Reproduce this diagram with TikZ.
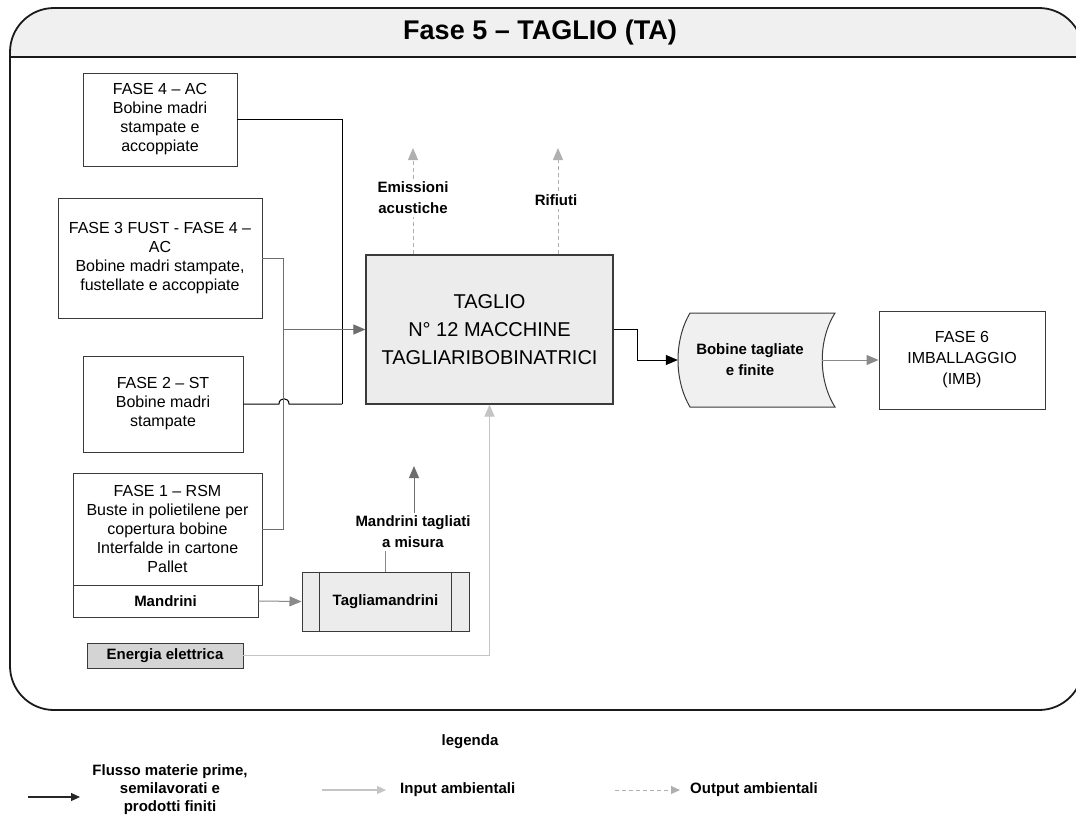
\documentclass[tikz,border=0pt]{standalone}
\usepackage{fontspec}
\setmainfont{Liberation Sans}
\usetikzlibrary{arrows.meta}

\definecolor{frameline}{HTML}{1A1A1A}
\definecolor{boxline}{HTML}{3A3A3A}
\definecolor{bandfill}{HTML}{F0F0F0}
\definecolor{procfill}{HTML}{ECECEC}
\definecolor{energyfill}{HTML}{D4D4D4}
\definecolor{flowgray}{HTML}{6E6E6E}
\definecolor{midgray}{HTML}{8A8A8A}
\definecolor{inlight}{HTML}{C4C4C4}
\definecolor{outdash}{HTML}{B0B0B0}

\newcommand{\boxfont}{\fontsize{16}{19}\selectfont}
\newcommand{\lblfont}{\fontsize{15}{21}\selectfont\bfseries}

\tikzset{
  phasebox/.style={draw=boxline, fill=white, line width=0.9pt, align=center,
    font=\boxfont, inner sep=0pt},
  mainbox/.style={draw=boxline, fill=procfill, line width=1.2pt, align=center,
    font=\fontsize{20}{28}\selectfont, inner sep=0pt},
  lbl/.style={align=center, font=\lblfont, inner sep=3pt},
  flowtip/.style={-{Triangle[length=12pt,width=10pt]}},
  smalltip/.style={-{Triangle[length=9pt,width=8pt]}},
  blackflow/.style={draw=black, line width=1pt},
  grayflow/.style={draw=flowgray, line width=1pt},
  inflow/.style={draw=inlight, line width=1.2pt},
  outflow/.style={draw=outdash, line width=1pt, dashed, dash pattern=on 4pt off 3pt}
}

\begin{document}
\begin{tikzpicture}[x=1pt,y=-1pt]
\useasboundingbox (0,0) rectangle (1076,825);
\fill[white] (0,0) rectangle (1076,825);

% outer frame with title band
\begin{scope}
  \clip (0,0) rectangle (1100,57);
  \fill[bandfill, rounded corners=44pt] (10,8) rectangle (1083,710);
\end{scope}
\draw[frameline, line width=1.8pt] (10,57) -- (1083,57);
\draw[frameline, line width=1.8pt, rounded corners=44pt] (10,8) rectangle (1083,710);
\node[font=\fontsize{27}{30}\selectfont\bfseries] (title) at (540,33) {Fase 5 – TAGLIO (TA)};

% incoming phases
\node[phasebox, minimum width=154pt, minimum height=93pt] (f4) at (160,119.5)
  {FASE 4 – AC\\Bobine madri\\stampate e\\accoppiate};
\node[phasebox, minimum width=204pt, minimum height=120pt] (f3) at (160,258)
  {FASE 3 FUST - FASE 4 –\\AC\\Bobine madri stampate,\\fustellate e accoppiate};
\node[phasebox, minimum width=160pt, minimum height=96pt] (f2) at (163,404)
  {FASE 2 – ST\\Bobine madri\\stampate};
\node[phasebox, minimum width=189pt, minimum height=112pt] (f1) at (167.5,529)
  {FASE 1 – RSM\\Buste in polietilene per\\copertura bobine\\Interfalde in cartone\\Pallet};
\node[phasebox, font=\lblfont, minimum width=185pt, minimum height=32pt] (md) at (165.5,601)
  {Mandrini};
\node[phasebox, fill=energyfill, font=\lblfont, minimum width=156pt, minimum height=25pt] (en) at (165,655.5)
  {Energia elettrica};

% cutting process
\node[mainbox, minimum width=247pt, minimum height=149pt] (tag) at (489.5,329.5)
  {TAGLIO\\N° 12 MACCHINE\\TAGLIARIBOBINATRICI};

% core cutter
\node[draw=boxline, fill=procfill, line width=1pt, font=\lblfont, inner sep=0pt,
  minimum width=167pt, minimum height=59pt] (tm) at (385.5,601.5) {Tagliamandrini};
\draw[boxline, line width=1pt] ([xshift=18pt]tm.north west) -- ([xshift=18pt]tm.south west);
\draw[boxline, line width=1pt] ([xshift=-18pt]tm.north east) -- ([xshift=-18pt]tm.south east);

% finished reels (stored-data outline, then its label)
\draw[boxline, fill=bandfill, line width=1pt]
  (690,313) -- (835,313) .. controls (818,340) and (818,380) .. (835,407)
  -- (690,407) .. controls (674,380) and (674,340) .. (690,313) -- cycle;
\node[lbl, minimum width=144pt, minimum height=94pt] (bob) at (750,360)
  {Bobine tagliate\\e finite};

% next phase
\node[phasebox, minimum width=166pt, minimum height=98pt, font=\fontsize{16}{21}\selectfont] (f6) at (962,360)
  {FASE 6\\IMBALLAGGIO\\(IMB)};

% junction points
\coordinate (jb) at (342,404);
\coordinate (jg) at (283,529);
\coordinate (ja) at (283,329.5);

% main material flows
\draw[blackflow] (f4.east) -| (jb);
\draw[blackflow] (f2.east) -- (279,404) .. controls (279,397) and (289,397) .. (289,404) -- (jb);
\draw[grayflow] (f3.east) -| (jg) -- (f1.east);
\draw[grayflow, flowtip] (ja) -- (tag.west);
\draw[blackflow, flowtip] (tag.east) -- ++(24,0) |- (bob.west);
\draw[draw=midgray, line width=1pt, flowtip] (bob.east) -- (f6.west);
\draw[draw=midgray, line width=1pt, flowtip] (md.east) -- (tm.west);

% cut cores back to the machines
\node[lbl] (mt) at (413,532) {Mandrini tagliati\\a misura};
\coordinate (mtTip) at (414,466);
\draw[draw=midgray, line width=1pt] (tm.north) -- (tm.north |- mt.south);
\draw[grayflow, flowtip] ([xshift=1pt]mt.north) -- (mtTip);

% electric energy input
\draw[inflow, flowtip] (en.east) -| (tag.south);

% environmental outputs
\node[lbl] (em) at (413,198) {Emissioni\\acustiche};
\node[lbl] (rf) at (556,200) {Rifiuti};
\coordinate (emTip) at (413,148);
\coordinate (rfTip) at (558,148);
\draw[outflow] ([xshift=-76.5pt]tag.north) -- ([xshift=-76.5pt]tag.north |- em.south);
\draw[outflow, flowtip] (em.north) -- (emTip);
\draw[outflow] ([xshift=68.5pt]tag.north) -- ([xshift=68.5pt]tag.north |- rf.south);
\draw[outflow, flowtip] ([xshift=2pt]rf.north) -- (rfTip);

% legend
\node[font=\lblfont] (lgtitle) at (470,742) {legenda};
\node[lbl, font=\fontsize{15}{18}\selectfont\bfseries] (lt1) at (170,790)
  {Flusso materie prime,\\semilavorati e\\prodotti finiti};
\node[font=\lblfont, anchor=west, inner sep=0pt] (lt2) at (400,790) {Input ambientali};
\node[font=\lblfont, anchor=west, inner sep=0pt] (lt3) at (690,790) {Output ambientali};
\coordinate (lg1) at (28,797);
\coordinate (lg1e) at (80,797);
\coordinate (lg2) at (322,790);
\coordinate (lg3) at (615,790);
\draw[draw=black!85, line width=1.2pt, smalltip] (lg1) -- (lg1e);
\draw[inflow, smalltip] (lg2) -- ([xshift=-14pt]lt2.west);
\draw[outflow, smalltip] (lg3) -- ([xshift=-10pt]lt3.west);
\end{tikzpicture}
\end{document}
